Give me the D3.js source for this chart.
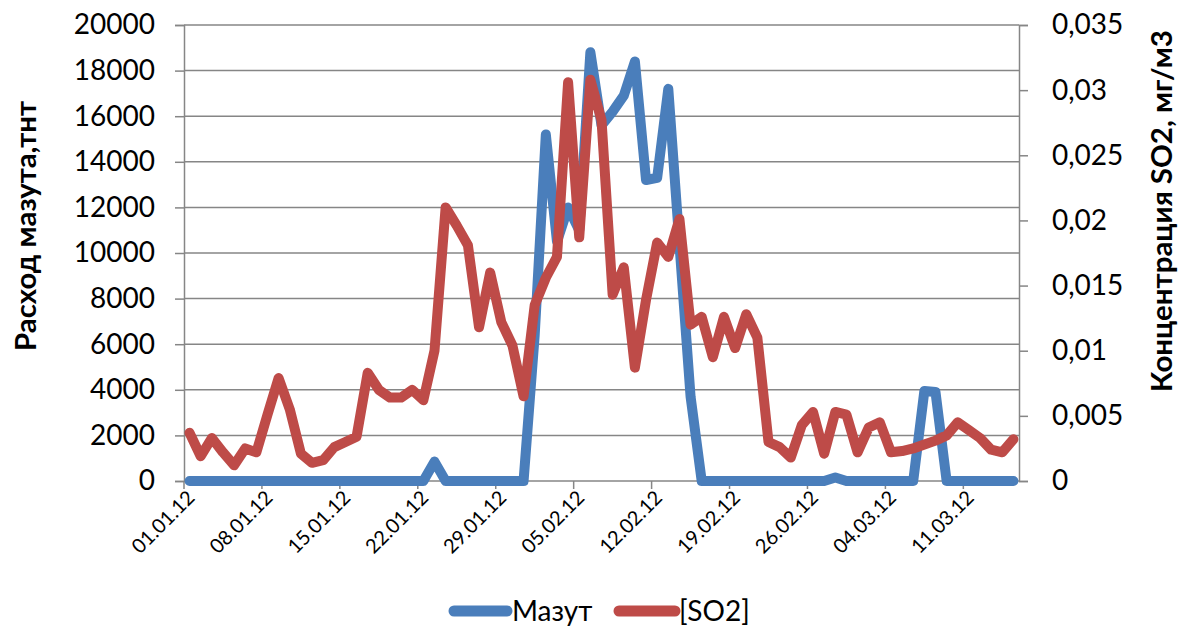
<!DOCTYPE html>
<html>
<head>
<meta charset="utf-8">
<script src="https://cdn.jsdelivr.net/npm/d3@7"></script>
<style>
  html, body { margin: 0; padding: 0; background: #fff; }
  svg { display: block; font-family: Lato, "Open Sans", sans-serif; }
</style>
</head>
<body>
<svg id="chart" width="1179" height="627"></svg>
<script>
// ---- data ----
const startDate = new Date(2012, 0, 1);
const endDate = new Date(2012, 2, 16); // exclusive -> 01.01.12 .. 15.03.12
const dates = d3.timeDay.range(startDate, endDate);

const tickLabels = ["01.01.12","08.01.12","15.01.12","22.01.12","29.01.12","05.02.12",
                    "12.02.12","19.02.12","26.02.12","04.03.12","11.03.12"];

const mazut = [
  0,0,0,0,0,0,0,0,0,0,
  0,0,0,0,0,0,0,0,0,0,
  0,0,850,0,0,0,0,0,0,0,
  0,6400,15200,10500,12000,11000,18800,15600,16200,16900,
  18400,13200,13300,17200,10400,3700,0,0,0,0,
  0,0,0,0,0,0,0,0,150,0,
  0,0,0,0,0,0,3950,3900,0,0,
  0,0,0,0,0
];

const so2 = [
  0.0037,0.0019,0.0033,0.0022,0.0012,0.0025,0.0022,0.0051,0.0079,0.0055,
  0.0021,0.0014,0.0016,0.0026,0.0030,0.0034,0.0083,0.0070,0.0064,0.0064,
  0.0070,0.0062,0.0100,0.0210,0.0196,0.0181,0.0118,0.0160,0.0122,0.0104,
  0.0065,0.0135,0.0156,0.0172,0.0306,0.0187,0.0308,0.0277,0.0143,0.0164,
  0.0087,0.0139,0.0183,0.0172,0.0201,0.0120,0.0126,0.0095,0.0126,0.0102,
  0.0128,0.0110,0.0030,0.0026,0.0018,0.0043,0.0053,0.0021,0.0053,0.0051,
  0.0022,0.0041,0.0045,0.0022,0.0023,0.0025,0.0028,0.0031,0.0035,0.0045,
  0.0039,0.0033,0.0024,0.0022,0.0032
];

const leftTicks = [0,2000,4000,6000,8000,10000,12000,14000,16000,18000,20000];
const rightTicks = [0,0.005,0.01,0.015,0.02,0.025,0.03,0.035];
const rightTickLabels = ["0","0,005","0,01","0,015","0,02","0,025","0,03","0,035"];

const seriesNames = ["Мазут", "[SO2]"];
const colors = ["#4A7EBB", "#BE4B48"];

// ---- layout ----
const L = 184, R = 1019, T = 25, B = 481;
const svg = d3.select("#chart");
const grid = "#868686";

const x = d3.scaleBand().domain(dates).range([L, R]).padding(0);
const xc = d => x(d) + x.bandwidth() / 2;
const yL = d3.scaleLinear().domain([0, 20000]).range([B, T]);
const yR = d3.scaleLinear().domain([0, 0.035]).range([B, T]);

// gridlines
svg.append("g").selectAll("line").data(leftTicks).join("line")
  .attr("x1", L).attr("x2", R)
  .attr("y1", d => yL(d)).attr("y2", d => yL(d))
  .attr("stroke", grid).attr("stroke-width", 1.5);

// left axis
const gL = svg.append("g").attr("transform", `translate(${L},0)`)
  .call(d3.axisLeft(yL).tickValues(leftTicks).tickSize(9).tickPadding(20).tickFormat(d3.format("d")));
gL.select(".domain").attr("stroke", grid).attr("stroke-width", 1.5);
gL.selectAll(".tick line").attr("stroke", grid).attr("stroke-width", 1.5);
gL.selectAll(".tick text").attr("font-family", "Lato").attr("font-size", 28).attr("fill", "#000");

// right axis
const gR = svg.append("g").attr("transform", `translate(${R},0)`)
  .call(d3.axisRight(yR).tickValues(rightTicks).tickSize(9).tickPadding(24)
        .tickFormat((d, i) => rightTickLabels[i]));
gR.select(".domain").attr("stroke", grid).attr("stroke-width", 1.5);
gR.selectAll(".tick line").attr("stroke", grid).attr("stroke-width", 1.5);
gR.selectAll(".tick text").attr("font-family", "Lato").attr("font-size", 28).attr("fill", "#000");

// bottom axis ticks & labels
const tickDates = tickLabels.map((t, i) => dates[i * 7]);
const gB = svg.append("g");
gB.selectAll("line").data(tickDates).join("line")
  .attr("x1", d => x(d)).attr("x2", d => x(d))
  .attr("y1", B).attr("y2", B + 8)
  .attr("stroke", grid).attr("stroke-width", 1.5);
gB.selectAll("text").data(tickLabels).join("text")
  .attr("transform", (t, i) => `translate(${x(tickDates[i]) + 7},${B + 13}) rotate(-45)`)
  .attr("text-anchor", "end")
  .attr("dy", "0.35em")
  .attr("font-family", "Lato").attr("font-size", 20).attr("fill", "#000")
  .text(t => t);

// lines
const lineL = d3.line().x((d, i) => xc(dates[i])).y(d => yL(d));
const lineR = d3.line().x((d, i) => xc(dates[i])).y(d => yR(d));
svg.append("path").datum(mazut).attr("d", lineL)
  .attr("fill", "none").attr("stroke", colors[0]).attr("stroke-width", 10)
  .attr("stroke-linejoin", "round").attr("stroke-linecap", "round");
svg.append("path").datum(so2).attr("d", lineR)
  .attr("fill", "none").attr("stroke", colors[1]).attr("stroke-width", 10)
  .attr("stroke-linejoin", "round").attr("stroke-linecap", "round");

// axis titles (font size fitted to the reference title lengths)
function fitTitle(sel, target) {
  const len = sel.node().getComputedTextLength();
  sel.attr("font-size", 25 * target / len);
}
const tLeft = svg.append("text")
  .attr("transform", `translate(36,226) rotate(-90)`)
  .attr("text-anchor", "middle")
  .attr("font-family", "Lato").attr("font-weight", "bold").attr("font-size", 25)
  .text("Расход мазута,тнт");
fitTitle(tLeft, 250);
const tRight = svg.append("text")
  .attr("transform", `translate(1172,211) rotate(-90)`)
  .attr("text-anchor", "middle")
  .attr("font-family", "Lato").attr("font-weight", "bold").attr("font-size", 25)
  .text("Концентрация SO2, мг/м3");
fitTitle(tRight, 362);

// legend
const legY = 611;
const leg = svg.append("g");
const legItems = [{x1: 454, x2: 507, tx: 512}, {x1: 619, x2: 675, tx: 679}];
legItems.forEach((p, i) => {
  leg.append("line").attr("x1", p.x1).attr("x2", p.x2).attr("y1", legY).attr("y2", legY)
    .attr("stroke", colors[i]).attr("stroke-width", 11).attr("stroke-linecap", "round");
  leg.append("text").attr("x", p.tx).attr("y", legY).attr("dy", "0.35em")
    .attr("font-family", "Lato").attr("font-size", 28).attr("fill", "#000")
    .text(seriesNames[i]);
});
</script>
</body>
</html>
